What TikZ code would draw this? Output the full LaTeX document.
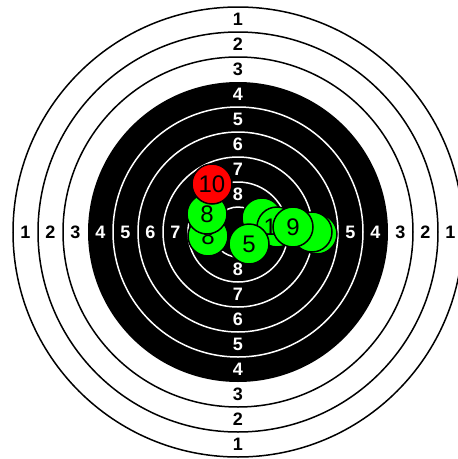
\documentclass[tikz,border=0pt]{standalone}
\usepackage{fontspec}
\setmainfont{Liberation Sans}
\definecolor{hitgreen}{HTML}{00FF00}
\definecolor{hitred}{HTML}{FF0000}
\tikzset{
  ring/.style    ={draw=black, line width=1.5pt},
  ringw/.style   ={draw=white, line width=1.5pt},
  ringnum/.style ={font=\bfseries\fontsize{18}{18}\selectfont, inner sep=0pt},
  shot/.style    ={circle, draw=black, line width=1.5pt, fill=hitgreen,
                   minimum size=40pt, inner sep=0pt,
                   font=\fontsize{24}{24}\selectfont},
  shotred/.style ={shot, fill=hitred}
}
\begin{document}
\begin{tikzpicture}[x=1pt, y=-1pt]
  \useasboundingbox (0,0) rectangle (458,459);
  \coordinate (c) at (238,232);

  % Scheibe
  \foreach \r in {225,200,175} \draw[ring] (c) circle (\r pt);
  \fill[black] (c) circle (150pt);
  \foreach \r in {125,100,75,50,25} \draw[ringw] (c) circle (\r pt);

  % Ringzahlen
  \foreach \k in {1,...,8} {
    \pgfmathsetmacro\d{237.5-25*\k}
    \ifnum\k<4 \def\col{black}\else\def\col{white}\fi
    \path (c) ++(0,-\d) node[ringnum, text=\col] (top\k) {\k};
    \path (c) ++(0,\d)  node[ringnum, text=\col] (bot\k) {\k};
    \path (c) ++(-\d,0) node[ringnum, text=\col] (lft\k) {\k};
    \path (c) ++(\d,0)  node[ringnum, text=\col] (rgt\k) {\k};
  }

  % Treffer
  \node[shot] (hitA) at (262,218) {};
  \node[shot] (hitD) at (317,234) {};
  \node[shot] (hitC) at (312,232) {};
  \node[shot] (hitB) at (277,227) {10};
  \node[shot] (hit9) at (293,227) {9};
  \node[shot] (hit8b) at (208,236) {8};
  \node[shot] (hit8) at (207,214) {8};
  \node[shot] (hit5) at (249,244) {5};
  \node[shotred] (hit10) at (212,184) {10};
\end{tikzpicture}
\end{document}
